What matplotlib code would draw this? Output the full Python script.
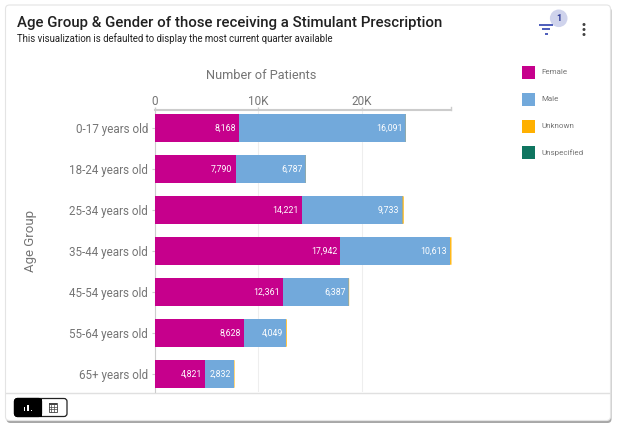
import matplotlib
matplotlib.use("Agg")
import matplotlib.pyplot as plt
from matplotlib.patches import FancyBboxPatch, Rectangle, Circle

plt.rcParams["font.family"] = ["Roboto", "DejaVu Sans"]

age_groups = ["0-17 years old", "18-24 years old", "25-34 years old", "35-44 years old",
              "45-54 years old", "55-64 years old", "65+ years old"]
female = [8168, 7790, 14221, 17942, 12361, 8628, 4821]
male = [16091, 6787, 9733, 10613, 6387, 4049, 2832]
unknown = [20, 20, 110, 130, 40, 70, 50]
unspecified = [0, 0, 0, 0, 0, 0, 0]
series_names = ["Female", "Male", "Unknown", "Unspecified"]
series_colors = ["#C6008C", "#72A9DB", "#FFB000", "#0F7560"]
x_ticks = [0, 10000, 20000]
x_tick_labels = ["0", "10K", "20K"]

W, H = 619, 429
GRIS = "#757575"

fig = plt.figure(figsize=(W / 100, H / 100), dpi=100, facecolor="white")

# capa de fondo en pixeles: tarjeta, iconos y leyenda
bg = fig.add_axes([0, 0, 1, 1], zorder=0)
bg.set_xlim(0, W)
bg.set_ylim(H, 0)
bg.axis("off")
bg.add_patch(FancyBboxPatch((6.5, 7), 605, 416, boxstyle="round,pad=0,rounding_size=4",
                            fc="#a8a8a8", ec="none"))
bg.add_patch(FancyBboxPatch((5.5, 5), 605, 415.5, boxstyle="round,pad=0,rounding_size=4",
                            fc="white", ec="#e4e4e4", lw=0.8))
bg.plot([6, 610], [392.5, 392.5], color="#e0e0e0", lw=1)

bg.text(17, 22.6, "Age Group & Gender of those receiving a Stimulant Prescription",
        fontsize=10.85, fontweight="medium", color="#212121", va="center", ha="left")
bg.text(17, 39, "This visualization is defaulted to display the most current quarter available",
        fontsize=6.95, color="#212121", va="center", ha="left")

# icono de filtro con contador
for y0, x0, x1 in [(25, 539, 553), (29.3, 542, 550), (33.5, 545, 547.5)]:
    bg.plot([x0, x1], [y0, y0], color="#3F51B5", lw=1.3, solid_capstyle="butt")
bg.add_patch(Circle((558.7, 18.3), 8.8, fc="#CFD3EC", ec="none"))
bg.text(558.7, 18.3, "1", fontsize=6.5, fontweight="bold", color="#283593", ha="center", va="center")
for y0 in [24.5, 29.5, 34.5]:
    bg.add_patch(Circle((584, y0), 1.5, fc="#424242", ec="none"))

# leyenda a mano porque va en columna con mucho aire
for nombre, color, yc in zip(series_names, series_colors, [72, 99, 126, 152.5]):
    bg.add_patch(Rectangle((522, yc - 6.5), 13, 13, fc=color, ec="none"))
    bg.text(541.5, yc + 0.4, nombre, fontsize=5.8, color=GRIS, va="center", ha="left")

# selector grafico / tabla
bg.add_patch(FancyBboxPatch((14.5, 398.5), 52.5, 18, boxstyle="round,pad=0,rounding_size=3",
                            fc="white", ec="#222222", lw=0.9))
bg.add_patch(FancyBboxPatch((14.5, 398.5), 27, 18, boxstyle="round,pad=0,rounding_size=3",
                            fc="black", ec="black", lw=0.9))
bg.add_patch(Rectangle((30, 398.5), 11.5, 18, fc="black", ec="none"))
for x0, h0 in [(23.5, 4), (27, 6.5), (30.5, 1.5)]:
    bg.add_patch(Rectangle((x0, 411 - h0), 1.7, h0, fc="white", ec="none"))
bg.add_patch(Rectangle((48.5, 403), 8.5, 8.5, fc="white", ec="#444444", lw=0.6))
bg.add_patch(Rectangle((48.5, 403), 8.5, 2, fc="#444444", ec="none"))
for k in [1, 2]:
    bg.plot([48.5, 57], [405 + k * 2.1] * 2, color="#444444", lw=0.5)
    bg.plot([48.5 + k * 2.83] * 2, [405, 411.5], color="#444444", lw=0.5)

# grafico principal
ax = fig.add_axes([155 / W, 1 - 392 / H, 295.5 / W, 282 / H], zorder=1)
ax.patch.set_alpha(0)
ax.set_xlim(0, 28593)
ax.set_ylim(6.44, -0.44)

left = [0] * len(age_groups)
for nombre, valores, color in zip(series_names, [female, male, unknown, unspecified], series_colors):
    # el ajuste a pixel borra los tramos muy finos
    ax.barh(age_groups, valores, left=left, height=0.67, color=color, label=nombre, zorder=3,
            snap=nombre not in ("Unknown", "Unspecified"), clip_on=False)
    if nombre in ("Female", "Male"):
        for i, v in enumerate(valores):
            ax.text(left[i] + v - 300, i, f"{v:,}", color="white", fontsize=6.3,
                    ha="right", va="center", zorder=4)
    left = [a + b for a, b in zip(left, valores)]

ax.xaxis.tick_top()
ax.xaxis.set_label_position("top")
ax.set_xticks(x_ticks, x_tick_labels)
ax.set_xlabel("Number of Patients", fontsize=9.2, color=GRIS)
ax.xaxis.set_label_coords(0.358, 1.11)
ax.tick_params(axis="x", length=2.2, width=1, color="#cccccc", labelcolor=GRIS, labelsize=8.5, pad=-0.8)
ax.tick_params(axis="y", length=2.5, width=0.8, color="#cccccc", labelcolor=GRIS, labelsize=8.4, pad=2.4)
for etiqueta in ax.get_yticklabels():
    etiqueta.set_verticalalignment("center_baseline")
ax.set_ylabel("Age Group", fontsize=9.5, color=GRIS)
ax.yaxis.set_label_coords(-0.40, 0.535)
ax.grid(axis="x", color="#eeeeee", lw=0.8, zorder=0)
ax.set_axisbelow(True)

for lado in ["right", "bottom"]:
    ax.spines[lado].set_visible(False)
ax.spines["top"].set_color("#cccccc")
ax.spines["top"].set_linewidth(1.5)
ax.spines["left"].set_color("#cccccc")
ax.spines["left"].set_linewidth(0.8)
# marca final del eje superior
ax.plot([1, 1], [1, 1.012], transform=ax.transAxes, color="#cccccc", lw=1, clip_on=False)

fig.savefig("out.png", dpi=100)
